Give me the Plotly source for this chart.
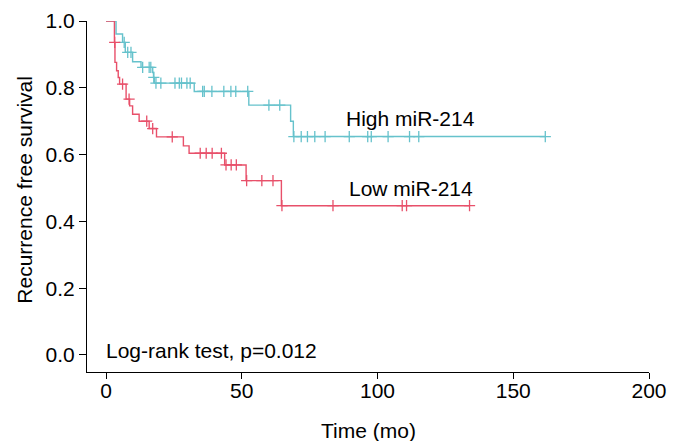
import plotly.graph_objects as go

# ---- data ----
high_event_times = [0, 3.7, 6.1, 7.1, 9.8, 12.9, 17.2, 17.5, 17.8, 32.5, 52.6, 68.0, 69.0]
high_surv = [1.0, 0.961, 0.936, 0.906, 0.878, 0.861, 0.846, 0.831, 0.814, 0.789, 0.748, 0.700, 0.654]
high_last_time = 161.8
high_censor_times = [6.7, 8.0, 9.2, 13.5, 15.9, 16.5, 17.6, 18.4, 20.2, 25.4, 27.0, 27.8, 29.8,
                     31.0, 35.6, 36.2, 39.0, 43.4, 46.0, 47.8, 52.2, 60.0, 64.0, 69.2, 71.9,
                     74.2, 76.9, 80.7, 89.6, 96.4, 97.7, 103.9, 111.8, 115.2, 161.8]

low_event_times = [0, 3.1, 3.3, 3.9, 4.5, 5.0, 7.4, 8.7, 9.8, 12.2, 15.9, 18.6, 28.5, 30.6, 43.7, 51.6, 64.6]
low_surv = [1.0, 0.936, 0.876, 0.851, 0.831, 0.811, 0.766, 0.746, 0.721, 0.700, 0.678, 0.653,
            0.626, 0.604, 0.569, 0.522, 0.447]
low_last_time = 133.9
low_censor_times = [3.2, 6.1, 8.5, 15.0, 17.2, 24.4, 34.7, 36.9, 39.1, 42.5, 44.2, 46.1, 48.0,
                    51.8, 57.4, 61.5, 64.8, 83.6, 109.1, 110.7, 133.9]

x_ticks = [0, 50, 100, 150, 200]
y_ticks = [0.0, 0.2, 0.4, 0.6, 0.8, 1.0]
y_tick_labels = ["0.0", "0.2", "0.4", "0.6", "0.8", "1.0"]

RED = "#E8506A"
BLUE = "#66C2CC"
FONT = "Arial, Liberation Sans, sans-serif"
FS = 21


def surv_at(times, surv, t):
    s = surv[0]
    for tt, ss in zip(times, surv):
        if tt <= t:
            s = ss
    return s


fig = go.Figure()


def add_group(times, surv, last, censors, color):
    fig.add_trace(go.Scatter(
        x=list(times) + [last], y=list(surv) + [surv[-1]],
        mode="lines", line=dict(color=color, width=1.4, shape="hv"),
        hoverinfo="skip", showlegend=False, cliponaxis=False))
    fig.add_trace(go.Scatter(
        x=censors, y=[surv_at(times, surv, t) for t in censors],
        mode="markers",
        marker=dict(symbol="cross-thin", size=8, line=dict(color=color, width=1.3)),
        showlegend=False, cliponaxis=False))


add_group(high_event_times, high_surv, high_last_time, high_censor_times, BLUE)
add_group(low_event_times, low_surv, low_last_time, low_censor_times, RED)

fig.add_annotation(x=112, y=0.709, text="High miR-214", showarrow=False,
                   font=dict(family=FONT, size=FS, color="black"))
fig.add_annotation(x=112.5, y=0.498, text="Low miR-214", showarrow=False,
                   font=dict(family=FONT, size=FS, color="black"))
fig.add_annotation(x=-0.8, y=0.012, text="Log-rank test, p=0.012", showarrow=False,
                   xanchor="left", font=dict(family=FONT, size=FS, color="black"))
# axis titles
fig.add_annotation(xref="paper", yref="paper", x=0.5, y=0, yshift=-58,
                   text="Time (mo)", showarrow=False, xanchor="center", yanchor="middle",
                   font=dict(family=FONT, size=FS, color="black"))
fig.add_annotation(xref="paper", yref="y", x=0, y=0.495, xshift=-62,
                   text="Recurrence free survival", showarrow=False, textangle=-90,
                   xanchor="center", yanchor="middle",
                   font=dict(family=FONT, size=FS, color="black"))

fig.update_layout(
    width=681, height=441,
    margin=dict(l=79, r=40, t=13, b=77),
    paper_bgcolor="white", plot_bgcolor="white",
    font=dict(family=FONT, size=FS, color="black"),
    xaxis=dict(range=[-7, 200], tickvals=x_ticks, ticks="outside", ticklen=6,
               tickwidth=1, tickcolor="black", showline=True, linecolor="black",
               linewidth=1, showgrid=False, zeroline=False, automargin=False,
               ticklabelstandoff=-6, tickfont=dict(size=FS)),
    yaxis=dict(range=[-0.051, 1.0], tickvals=y_ticks, ticktext=y_tick_labels,
               ticks="outside", ticklen=7, tickwidth=1, tickcolor="black",
               showline=True, linecolor="black", linewidth=1, showgrid=False,
               zeroline=False, automargin=False,
               tickfont=dict(size=FS)),
)

fig.write_html("out.html")
